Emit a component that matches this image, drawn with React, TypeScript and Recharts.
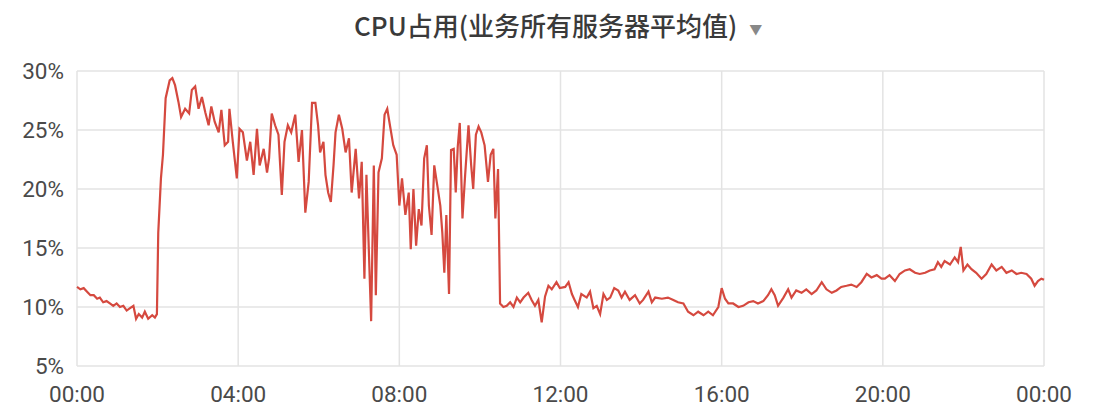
import { LineChart, Line, XAxis, YAxis, CartesianGrid } from 'recharts'

// sample time, minutes since midnight
const minutes = [
  0, 5, 10, 15, 20, 25, 30, 34, 39, 44, 49, 54, 59, 64, 69, 74, 79, 84, 88, 92, 97, 101, 106, 112, 116, 119,
  121, 125, 128, 132, 138, 142, 146, 151, 155, 161, 167, 171, 176, 181, 186, 191, 196, 200, 205, 211, 215,
  220, 225, 227, 232, 238, 242, 247, 253, 258, 263, 268, 272, 278, 283, 286, 290, 295, 300, 305, 309, 314,
  319, 325, 330, 335, 340, 345, 350, 355, 359, 362, 367, 370, 374, 378, 382, 385, 390, 395, 400, 405, 409,
  415, 420, 424, 428, 431, 435, 438, 442, 445, 449, 454, 458, 462, 466, 471, 476, 480, 484, 489, 494, 497,
  501, 505, 509, 513, 517, 521, 524, 528, 532, 536, 541, 544, 547, 550, 554, 557, 561, 564, 567, 570, 574,
  578, 583, 587, 590, 594, 598, 602, 607, 612, 616, 620, 623, 627, 630, 635, 640, 645, 650, 655, 660, 665,
  672, 677, 682, 687, 692, 697, 702, 707, 714, 719, 727, 732, 737, 741, 746, 751, 759, 764, 769, 774, 779,
  784, 789, 794, 800, 806, 811, 816, 823, 831, 838, 843, 851, 856, 861, 871, 880, 888, 895, 903, 910, 918,
  925, 933, 940, 947, 955, 960, 965, 970, 977, 985, 992, 1000, 1007, 1014, 1022, 1029, 1034, 1039, 1044,
  1052, 1059, 1064, 1071, 1079, 1086, 1094, 1101, 1109, 1116, 1124, 1131, 1138, 1146, 1153, 1161, 1168,
  1176, 1183, 1191, 1198, 1203, 1210, 1218, 1225, 1233, 1240, 1248, 1255, 1263, 1270, 1277, 1282, 1287,
  1292, 1300, 1307, 1312, 1316, 1320, 1326, 1332, 1339, 1347, 1354, 1362, 1369, 1377, 1384, 1392, 1399,
  1406, 1414, 1421, 1426, 1431, 1436, 1440,
]

// average CPU usage, percent
const cpu = [
  11.7, 11.5, 11.6, 11.3, 11.0, 11.0, 10.7, 10.8, 10.4, 10.5, 10.3, 10.1, 10.3, 10.0, 10.1, 9.7, 9.9, 10.1, 9.0, 9.4, 9.1, 9.6, 9.0, 9.3, 9.1, 9.4,
  16.3, 20.9, 22.9, 27.7, 29.2, 29.4, 28.8, 27.4, 26.1, 26.8, 26.4, 28.4, 28.7, 26.8, 27.8, 26.5, 25.4, 27.0, 25.7, 24.8, 26.7,
  23.7, 24.0, 26.8, 24.0, 20.9, 25.1, 24.8, 22.4, 24.0, 21.2, 25.1, 22.0, 23.4, 21.4, 22.6, 26.4, 25.4, 24.6, 19.5, 24.0, 25.4,
  24.8, 26.3, 22.3, 25.0, 18.0, 20.6, 27.3, 27.3, 25.4, 23.1, 24.0, 21.2, 19.7, 18.9, 22.0, 24.8, 26.3, 25.1, 23.1, 24.3, 19.7,
  23.4, 19.2, 22.3, 12.4, 21.2, 14.1, 8.8, 22.0, 11.0, 21.4, 22.6, 26.3, 26.8, 25.4, 23.7, 22.9, 18.6, 20.9, 17.8, 19.7, 14.9,
  20.0, 15.2, 18.3, 16.9, 22.6, 23.7, 18.6, 16.1, 22.0, 20.5, 18.6, 16.3, 12.9, 17.8, 11.1, 23.3, 23.4, 19.7, 23.6, 25.6, 17.5,
  21.2, 25.4, 22.0, 20.0, 24.6, 25.3, 24.8, 23.7, 20.6, 22.9, 23.4, 17.5, 21.7, 10.3, 10.0, 10.1, 10.4, 10.0, 10.8, 10.4, 10.8,
  11.2, 10.6, 10.1, 10.6, 8.7, 10.9, 11.8, 11.5, 12.1, 11.6, 11.7, 12.1, 11.1, 10.6, 10.0, 11.1, 10.8, 11.3, 9.9, 10.1, 9.4,
  11.1, 10.6, 10.8, 11.6, 11.4, 10.8, 11.3, 10.6, 11.0, 10.3, 10.6, 11.3, 10.4, 10.8, 10.7, 10.8, 10.6, 10.4, 10.3, 9.6, 9.3,
  9.6, 9.3, 9.6, 9.3, 10.0, 11.6, 10.7, 10.3, 10.3, 10.0, 10.1, 10.4, 10.5, 10.3, 10.5, 11.0, 11.5, 11.0, 10.1,
  10.8, 11.5, 10.8, 11.4, 11.2, 11.5, 11.1, 11.4, 12.1, 11.5, 11.2, 11.4, 11.7, 11.8, 11.9, 11.7, 12.1,
  12.8, 12.5, 12.7, 12.4, 12.4, 12.7, 12.2, 12.8, 13.1, 13.2, 12.9, 12.8, 12.9, 13.1, 13.2, 13.8, 13.4,
  13.9, 13.6, 14.2, 13.8, 15.1, 13.1, 13.6, 13.2, 12.9, 12.4, 12.8, 13.6, 13.1, 13.4, 12.9, 13.1, 12.8,
  12.9, 12.8, 12.4, 11.8, 12.2, 12.4, 12.3,
]

const xTicks = [0, 240, 480, 720, 960, 1200, 1440]
const yTicks = [5, 10, 15, 20, 25, 30]

const data = minutes.map((m, i) => ({ m, cpu: cpu[i] }))

function formatClock(m: number): string {
  const h = Math.floor(m / 60) % 24
  const mm = m % 60
  return `${String(h).padStart(2, '0')}:${String(mm).padStart(2, '0')}`
}

const tickStyle = { fontSize: 22.5, fill: '#4a4a4a', fontFamily: 'Roboto, sans-serif' }

export default function App() {
  return (
    <div
      style={{
        position: 'absolute',
        left: 0,
        top: 0,
        width: 1098,
        height: 416,
        background: '#fff',
        overflow: 'hidden',
      }}
    >
      <div
        style={{
          position: 'absolute',
          left: 354,
          top: 7,
          fontFamily: '"Noto Sans CJK SC", "Noto Sans", sans-serif',
          fontSize: 26,
          fontWeight: 500,
          color: '#3a3a3a',
          whiteSpace: 'nowrap',
          lineHeight: '36px',
        }}
      >
        CPU占用(业务所有服务器平均值)
        <span style={{ fontSize: 13, color: '#888', marginLeft: 12, verticalAlign: 'middle' }}>▼</span>
      </div>
      <LineChart
        width={1098}
        height={416}
        data={data}
        margin={{ top: 71, right: 54, left: 0, bottom: 0 }}
      >
        <CartesianGrid stroke="#e3e3e3" strokeWidth={1.5} />
        <XAxis
          dataKey="m"
          type="number"
          domain={[0, 1440]}
          ticks={xTicks}
          tickFormatter={formatClock}
          tick={tickStyle}
          tickLine={false}
          axisLine={false}
          tickSize={0}
          tickMargin={20}
          height={50}
          interval={0}
        />
        <YAxis
          domain={[5, 30]}
          ticks={yTicks}
          tickFormatter={(v) => `${v}%`}
          tick={tickStyle}
          tickLine={false}
          axisLine={false}
          tickSize={0}
          tickMargin={13}
          width={77}
          interval={0}
        />
        <Line
          type="linear"
          dataKey="cpu"
          stroke="#d5493f"
          strokeWidth={2.2}
          dot={false}
          isAnimationActive={false}
        />
      </LineChart>
    </div>
  )
}
